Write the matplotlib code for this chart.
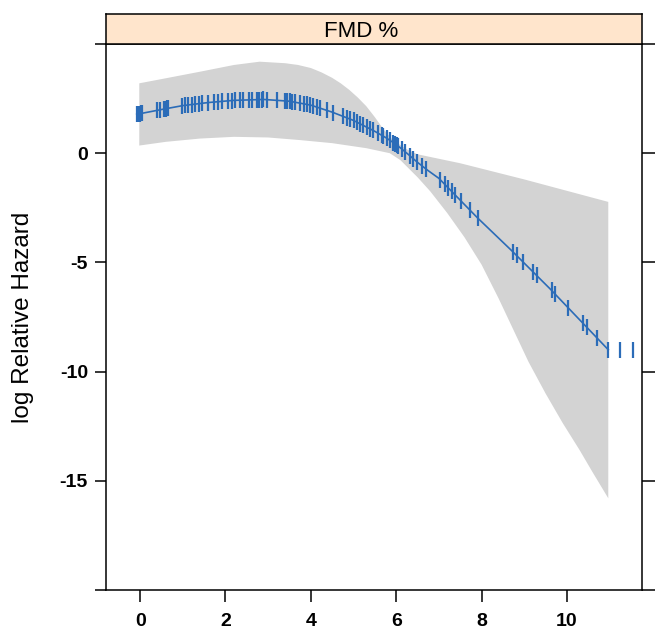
import numpy as np
import matplotlib
matplotlib.use("Agg")
import matplotlib.pyplot as plt

plt.rcParams['font.family'] = ['Liberation Sans', 'DejaVu Sans']

# Data
# fitted spline (log relative hazard vs FMD %)
fmd = [-0.08, 0.5, 1.0, 1.6, 2.2, 2.9, 3.5, 4.0, 4.5, 5.0, 5.5, 5.75, 6.0, 6.25, 6.5, 6.75,
       7.0, 7.9, 8.7, 9.6, 10.97]
log_hr = [1.78, 2.0, 2.18, 2.32, 2.42, 2.46, 2.38, 2.2, 1.88, 1.5, 1.0, 0.72, 0.4, 0.0,
          -0.42, -0.8, -1.15, -2.95, -4.45, -6.2, -9.0]

# confidence band
upper_x = [-0.02, 0.6, 1.4, 2.2, 2.8, 3.4, 3.7, 4.0, 4.25, 4.5, 4.7, 4.9, 5.1, 5.3, 5.5,
           5.7, 5.9, 6.1, 6.3, 6.5, 7.5, 9.0, 10.97]
upper_y = [3.2, 3.43, 3.73, 4.04, 4.19, 4.12, 4.04, 3.9, 3.7, 3.45, 3.2, 2.9, 2.55, 2.15,
           1.65, 1.1, 0.65, 0.37, 0.12, -0.05, -0.46, -1.2, -2.23]
lower_x = [-0.02, 0.6, 1.4, 2.2, 3.0, 3.75, 4.5, 5.3, 5.85, 6.1, 6.5, 6.8, 7.2, 7.6, 8.0,
           8.4, 8.75, 9.1, 9.5, 9.9, 10.3, 10.6, 10.97]
lower_y = [0.35, 0.52, 0.67, 0.75, 0.72, 0.6, 0.46, 0.23, 0.0, -0.32, -1.1, -1.75, -2.75,
           -3.85, -5.1, -6.65, -8.1, -9.55, -11.0, -12.35, -13.6, -14.6, -15.8]

# data density ticks (observed FMD values)
rug = [-0.08, -0.06, -0.04, -0.02, 0.0, 0.02, 0.04, 0.39, 0.47, 0.55, 0.58, 0.61, 0.64, 0.66,
       0.98, 1.05, 1.13, 1.21, 1.29, 1.37, 1.44, 1.60, 1.72, 1.83, 1.91, 2.07, 2.15, 2.22,
       2.34, 2.42, 2.54, 2.62, 2.73, 2.79, 2.85, 2.89, 2.97, 3.20, 3.40, 3.44, 3.50, 3.55,
       3.63, 3.75, 3.83, 3.90, 3.97, 4.06, 4.14, 4.22, 4.37, 4.53, 4.76, 4.84, 4.92, 5.0,
       5.07, 5.15, 5.23, 5.31, 5.39, 5.46, 5.58, 5.66, 5.70, 5.78, 5.85, 5.93, 5.97, 6.01,
       6.05, 6.13, 6.21, 6.32, 6.40, 6.48, 6.60, 6.71, 7.03, 7.14, 7.22, 7.30, 7.38, 7.53,
       7.73, 7.92, 8.74, 8.82, 8.98, 9.21, 9.29, 9.64, 9.72, 10.03, 10.38, 10.46, 10.70,
       10.97, 11.24, 11.54]

yticks = [-20, -15, -10, -5, 0, 5]
ytick_labels = ['', '-15', '-10', '-5', '0', '']
xticks = [0, 2, 4, 6, 8, 10]

fig = plt.figure(figsize=(6.55, 6.31), dpi=100)
ax = fig.add_axes([106/655, 41/631, 536/655, 546/631])

band_x = upper_x + lower_x[::-1]
band_y = upper_y + lower_y[::-1]
ax.fill(band_x, band_y, color='#d3d3d3', lw=0)

ax.plot(fmd, log_hr, color='#2b6cb8', lw=1.2)
ax.plot(rug, np.interp(rug, fmd, log_hr), ls='none', marker='|',
        markersize=11, mew=1.6, color='#2b6cb8')

ax.set_xlim(-0.80, 11.76)
ax.set_ylim(-20, 5)
ax.set_xticks(xticks)
ax.set_yticks(yticks)
ax.set_yticklabels(ytick_labels)
for lbl in ax.get_xticklabels() + ax.get_yticklabels():
    lbl.set_fontweight('bold')

for s in ax.spines.values():
    s.set_linewidth(1.1)
ax.tick_params(axis='both', direction='out', width=1.1, labelsize=14, colors='black')
ax.tick_params(axis='x', length=8.5, pad=8)
ax.tick_params(axis='y', length=8, pad=5, right=True)
for t in ax.yaxis.get_major_ticks():
    t.tick2line.set_markersize(12)

ax.set_ylabel('log Relative Hazard', fontsize=17.5)
ax.yaxis.set_label_coords(-0.134, 0.5)

# strip on top
strip = fig.add_axes([106/655, 587/631, 536/655, 30/631])
strip.set_facecolor('#ffe5cc')
strip.set_xticks([])
strip.set_yticks([])
for s in strip.spines.values():
    s.set_linewidth(1.1)
strip.text(0.476, 0.42, 'FMD %', ha='center', va='center', fontsize=16,
           transform=strip.transAxes)

fig.savefig('out.png', dpi=100)
